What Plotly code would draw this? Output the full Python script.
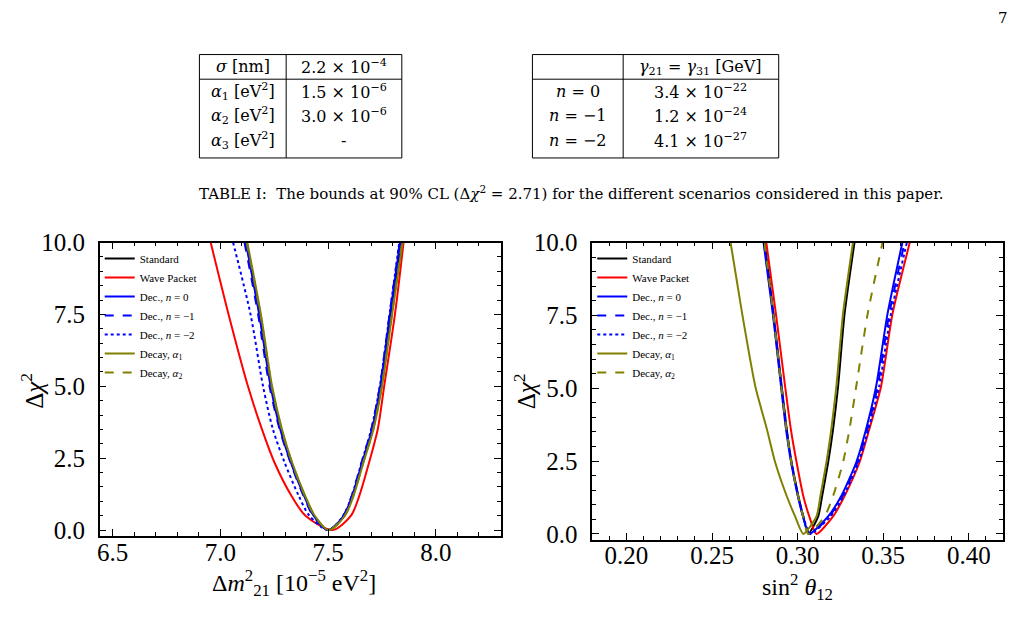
import plotly.graph_objects as go

W, H = 1019, 626
def px(x):
    return x / W
def py(y):
    return 1 - y / H

SERIF = "Liberation Serif"
TEXSERIF = "DejaVu Serif"

# ---------------- data ----------------
# Delta chi^2 levels at which each curve was read (left branch -> minimum -> right branch)
LEVELS_L = [10.0, 7.5, 5.0, 3.5, 2.35, 1.2, 0.5, 0.0, 0.5, 1.2, 2.35, 3.5, 5.0, 7.5, 10.0]
LEVELS_R = [10.0, 7.55, 5.05, 3.6, 2.45, 1.3, 0.6, 0.0, 0.6, 1.3, 2.45, 3.6, 5.05, 7.55, 10.0]

# Left panel: Delta m^2_21 [1e-5 eV^2]
dm_standard = [7.120, 7.182, 7.236, 7.282, 7.329, 7.390, 7.434, 7.500, 7.575, 7.614, 7.660, 7.707, 7.745, 7.790, 7.838]
dm_wavepkt  = [6.955, 7.038, 7.128, 7.193, 7.251, 7.329, 7.395, 7.520, 7.606, 7.645, 7.690, 7.730, 7.760, 7.810, 7.850]
dm_dec_n0   = [7.118, 7.180, 7.233, 7.278, 7.327, 7.388, 7.433, 7.500, 7.572, 7.612, 7.658, 7.703, 7.742, 7.787, 7.834]
dm_dec_nm1  = [7.112, 7.175, 7.228, 7.275, 7.325, 7.385, 7.430, 7.500, 7.570, 7.610, 7.655, 7.700, 7.740, 7.785, 7.832]
dm_dec_nm2  = [7.059, 7.140, 7.198, 7.244, 7.298, 7.363, 7.413, 7.500, 7.570, 7.610, 7.655, 7.700, 7.740, 7.785, 7.830]
dm_decay_a1 = [7.125, 7.188, 7.240, 7.286, 7.333, 7.393, 7.438, 7.502, 7.578, 7.618, 7.664, 7.710, 7.750, 7.797, 7.845]
dm_decay_a2 = [7.122, 7.186, 7.238, 7.284, 7.332, 7.391, 7.437, 7.502, 7.577, 7.617, 7.663, 7.709, 7.749, 7.796, 7.843]

# Right panel: sin^2 theta_12
s12_standard = [0.2807, 0.2859, 0.2907, 0.2936, 0.2965, 0.3004, 0.3033, 0.3062, 0.3120, 0.3143, 0.3178, 0.3207, 0.3236, 0.3274, 0.3332]
s12_wavepkt  = [0.2817, 0.2873, 0.2927, 0.2960, 0.2994, 0.3033, 0.3068, 0.3110, 0.3207, 0.3274, 0.3361, 0.3419, 0.3487, 0.3554, 0.3655]
s12_dec_n0   = [0.2801, 0.2855, 0.2903, 0.2932, 0.2962, 0.3001, 0.3031, 0.3068, 0.3178, 0.3255, 0.3342, 0.3400, 0.3458, 0.3525, 0.3612]
s12_dec_nm1  = [0.2803, 0.2857, 0.2905, 0.2934, 0.2963, 0.3002, 0.3032, 0.3070, 0.3185, 0.3262, 0.3349, 0.3408, 0.3467, 0.3535, 0.3625]
s12_dec_nm2  = [0.2805, 0.2858, 0.2906, 0.2935, 0.2964, 0.3003, 0.3033, 0.3072, 0.3192, 0.3268, 0.3355, 0.3414, 0.3476, 0.3545, 0.3638]
s12_decay_a1 = [0.2608, 0.2676, 0.2753, 0.2820, 0.2869, 0.2936, 0.2985, 0.3033, 0.3110, 0.3133, 0.3168, 0.3197, 0.3226, 0.3265, 0.3323]
s12_decay_a2 = [0.2806, 0.2858, 0.2905, 0.2934, 0.2963, 0.3002, 0.3032, 0.3062, 0.3158, 0.3207, 0.3265, 0.3303, 0.3342, 0.3409, 0.3496]

series_names = ["Standard", "Wave Packet", "Dec., <i>n</i> = 0", "Dec., <i>n</i> = −1",
                "Dec., <i>n</i> = −2", "Decay, <i>α</i><sub>1</sub>", "Decay, <i>α</i><sub>2</sub>"]
series_colors = ["#000000", "#ff0000", "#0000ff", "#0000ff", "#0000ff", "#808000", "#808000"]
series_dashes = ["solid", "solid", "solid", "dash", "dot", "solid", "dash"]
left_values = [dm_standard, dm_wavepkt, dm_dec_n0, dm_dec_nm1, dm_dec_nm2, dm_decay_a1, dm_decay_a2]
right_values = [s12_standard, s12_wavepkt, s12_dec_n0, s12_dec_nm1, s12_dec_nm2, s12_decay_a1, s12_decay_a2]

# Axis titles
xtitle_left = "Δ<i>m</i><sup>2</sup><sub>21</sub> [10<sup>−5</sup> eV<sup>2</sup>]"
xtitle_right = "sin<sup>2</sup> <i>θ</i><sub>12</sub>"
ytitle = "Δ<i>χ</i><sup>2</sup>"

# Tables
table1_col1 = ["<i>σ</i> [nm]", "<i>α</i><sub>1</sub> [eV<sup>2</sup>]",
               "<i>α</i><sub>2</sub> [eV<sup>2</sup>]", "<i>α</i><sub>3</sub> [eV<sup>2</sup>]"]
table1_col2 = ["2.2 × 10<sup>−4</sup>", "1.5 × 10<sup>−6</sup>", "3.0 × 10<sup>−6</sup>", "-"]
table2_col1 = ["", "<i>n</i> = 0", "<i>n</i> = −1", "<i>n</i> = −2"]
table2_col2 = ["<i>γ</i><sub>21</sub> = <i>γ</i><sub>31</sub> [GeV]", "3.4 × 10<sup>−22</sup>",
               "1.2 × 10<sup>−24</sup>", "4.1 × 10<sup>−27</sup>"]
caption = "TABLE I:  The bounds at 90% CL (Δ<i>χ</i><sup>2</sup> = 2.71) for the different scenarios considered in this paper."

# ---------------- figure ----------------
fig = go.Figure()
for name, xs, c, d in zip(series_names, left_values, series_colors, series_dashes):
    fig.add_trace(go.Scatter(x=xs, y=LEVELS_L, mode="lines", name=name,
                             line=dict(color=c, width=2, dash=d, shape="spline", smoothing=0.8),
                             xaxis="x", yaxis="y", legend="legend", cliponaxis=True))
for name, xs, c, d in zip(series_names, right_values, series_colors, series_dashes):
    fig.add_trace(go.Scatter(x=xs, y=LEVELS_R, mode="lines", name=name,
                             line=dict(color=c, width=2, dash=d, shape="spline", smoothing=0.6),
                             xaxis="x2", yaxis="y2", legend="legend2", cliponaxis=True))

axis_common = dict(showgrid=False, zeroline=False, showline=True, linecolor="black", linewidth=1.5,
                   mirror="ticks", ticks="inside", ticklen=7, tickwidth=1.2, tickcolor="black",
                   tickfont=dict(family=SERIF, size=25, color="black"))
minor_common = dict(ticks="inside", ticklen=4, tickwidth=1, tick0=0, tickcolor="black")

fig.update_layout(
    width=W, height=H, margin=dict(l=0, r=0, t=0, b=0),
    paper_bgcolor="white", plot_bgcolor="white",
    font=dict(family=SERIF, color="black"),
    xaxis=dict(domain=[px(97), px(499)], range=[6.44, 8.30], anchor="y",
               tickvals=[6.5, 7.0, 7.5, 8.0], tickformat=".1f", ticklabelstandoff=-7,
               minor=dict(dtick=0.1, **minor_common), **axis_common),
    yaxis=dict(domain=[py(541), py(237.5)], range=[-0.2, 10.0], anchor="x",
               tickvals=[0, 2.5, 5.0, 7.5, 10.0], tickformat=".1f", ticklabelstandoff=8,
               minor=dict(dtick=0.5, **minor_common), **axis_common),
    xaxis2=dict(domain=[px(591), px(1003)], range=[0.18, 0.42], anchor="y2",
                tickvals=[0.20, 0.25, 0.30, 0.35, 0.40], tickformat=".2f", ticklabelstandoff=-7,
                minor=dict(dtick=0.01, **minor_common), **axis_common),
    yaxis2=dict(domain=[py(545), py(237.5)], range=[-0.2, 10.0], anchor="x2",
                tickvals=[0, 2.5, 5.0, 7.5, 10.0], tickformat=".1f", ticklabelstandoff=8,
                minor=dict(dtick=0.5, **minor_common), **axis_common),
    legend=dict(x=px(97), y=py(239), xanchor="left", yanchor="top", bgcolor="rgba(0,0,0,0)",
                font=dict(family=SERIF, size=11, color="black"), itemwidth=30, tracegroupgap=0),
    legend2=dict(x=px(591), y=py(239), xanchor="left", yanchor="top", bgcolor="rgba(0,0,0,0)",
                 font=dict(family=SERIF, size=11, color="black"), itemwidth=30, tracegroupgap=0),
    showlegend=True,
)

shapes = []
annotations = []

def add_text(text, x, y, size, family=TEXSERIF, angle=0):
    annotations.append(dict(text=text, xref="paper", yref="paper", x=px(x), y=py(y),
                            xanchor="center", yanchor="middle", showarrow=False, textangle=angle,
                            font=dict(family=family, size=size, color="black")))

def add_table(x0, xm, x1, y0, yh, y1, col1, col2, rows_y):
    line = dict(color="black", width=1)
    shapes.append(dict(type="rect", xref="paper", yref="paper", x0=px(x0), x1=px(x1), y0=py(y1), y1=py(y0), line=line))
    shapes.append(dict(type="line", xref="paper", yref="paper", x0=px(xm), x1=px(xm), y0=py(y1), y1=py(y0), line=line))
    shapes.append(dict(type="line", xref="paper", yref="paper", x0=px(x0), x1=px(x1), y0=py(yh), y1=py(yh), line=line))
    for t1, t2, ry in zip(col1, col2, rows_y):
        if t1:
            add_text(t1, (x0 + xm) / 2, ry, 16)
        add_text(t2, (xm + x1) / 2, ry, 16)

add_table(197, 284, 400, 43, 68.5, 150, table1_col1, table1_col2, [55, 81, 106.5, 132])
add_table(531, 622, 778, 43, 68.5, 150, table2_col1, table2_col2, [56, 81, 106.5, 132])

add_text("7", 1003, 5, 15)
add_text(caption, 570, 186, 15)

# axis titles
add_text(xtitle_left, 292, 590, 24, family=SERIF)
add_text(xtitle_right, 797, 594, 24, family=SERIF)
add_text(ytitle, 29, 391, 25, family=SERIF, angle=-90)
add_text(ytitle, 523, 391, 25, family=SERIF, angle=-90)

fig.update_layout(shapes=shapes, annotations=annotations)
fig.write_html("out.html")
